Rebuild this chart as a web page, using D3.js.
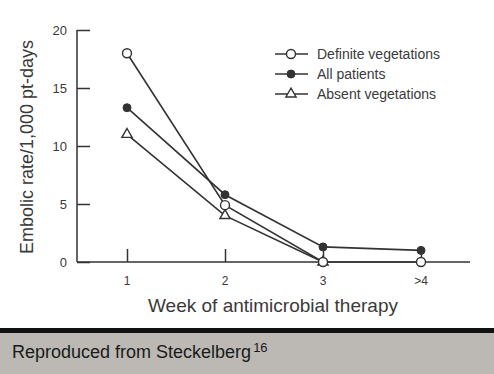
<!DOCTYPE html>
<html>
<head>
<meta charset="utf-8">
<script src="https://cdn.jsdelivr.net/npm/d3@7"></script>
<style>
  body { margin: 0; background: #fff; }
  svg { display: block; }
  text { font-family: "Liberation Sans", Arial, sans-serif; fill: #3a3a3a; }
</style>
</head>
<body>
<div id="chart"></div>
<script>
// Chart data
const weeks = ["1", "2", "3", ">4"];
const definiteVeg = [18, 4.9, 0, 0];
const allPatients = [13.3, 5.8, 1.3, 1.0];
const absentVeg = [11, 4.0, 0];
const yTicks = [0, 5, 10, 15, 20];
const seriesNames = ["Definite vegetations", "All patients", "Absent vegetations"];

const width = 494;
const height = 374;
const ink = "#333";

const svg = d3.select("#chart")
    .append("svg")
    .attr("width", width)
    .attr("height", height);

// Scales
const x = d3.scalePoint()
    .domain(weeks)
    .range([127, 421]);

const y = d3.scaleLinear()
    .domain([0, 20])
    .range([262, 30]);

// Y axis (ticks pointing inward)
const yAxis = svg.append("g")
    .attr("transform", "translate(77,0)")
    .call(d3.axisRight(y).tickValues(yTicks).tickSize(13).tickFormat(""));
yAxis.select(".domain").remove();
yAxis.selectAll("line").attr("stroke", ink).attr("stroke-width", 1.5);

svg.append("line")
    .attr("x1", 77).attr("x2", 77)
    .attr("y1", y(20)).attr("y2", y(0))
    .attr("stroke", ink).attr("stroke-width", 1.5);

svg.selectAll(".ylab")
    .data(yTicks)
    .enter().append("text")
    .attr("class", "ylab")
    .attr("x", 67)
    .attr("y", d => y(d) + 5)
    .attr("text-anchor", "end")
    .attr("font-size", 13)
    .text(d => d);

// X axis (ticks pointing up)
const xAxis = svg.append("g")
    .attr("transform", "translate(0,262)")
    .call(d3.axisTop(x).tickSize(13).tickFormat(""));
xAxis.select(".domain").remove();
xAxis.selectAll("line").attr("stroke", ink).attr("stroke-width", 1.5);

svg.append("line")
    .attr("x1", 77).attr("x2", 470)
    .attr("y1", 262).attr("y2", 262)
    .attr("stroke", ink).attr("stroke-width", 1.5);

svg.selectAll(".xlab")
    .data(weeks)
    .enter().append("text")
    .attr("class", "xlab")
    .attr("x", d => x(d))
    .attr("y", 285)
    .attr("text-anchor", "middle")
    .attr("font-size", 12)
    .text(d => d);

// Axis titles
svg.append("text")
    .attr("transform", "translate(33,147) rotate(-90)")
    .attr("text-anchor", "middle")
    .attr("font-size", 18)
    .text("Embolic rate/1,000 pt-days");

svg.append("text")
    .attr("x", 273)
    .attr("y", 312)
    .attr("text-anchor", "middle")
    .attr("font-size", 19)
    .text("Week of antimicrobial therapy");

// Lines
const line = d3.line()
    .x((d, i) => x(weeks[i]))
    .y(d => y(d));

[definiteVeg, allPatients, absentVeg].forEach(vals => {
    svg.append("path")
        .datum(vals)
        .attr("d", line)
        .attr("fill", "none")
        .attr("stroke", ink)
        .attr("stroke-width", 1.6);
});

// Marker drawing helpers
function circleOpen(g) {
    g.append("circle").attr("r", 4.5).attr("fill", "#fff").attr("stroke", ink).attr("stroke-width", 1.4);
}
function circleFilled(g) {
    g.append("circle").attr("r", 4).attr("fill", ink).attr("stroke", ink);
}
function triangleOpen(g) {
    g.append("path")
        .attr("d", d3.symbol().type(d3.symbolTriangle).size(45))
        .attr("fill", "#fff").attr("stroke", ink).attr("stroke-width", 1.4);
}
const markers = [circleOpen, circleFilled, triangleOpen];

// Draw markers (triangles, then filled, then open circles on top)
[[absentVeg, 2], [allPatients, 1], [definiteVeg, 0]].forEach(([vals, k]) => {
    vals.forEach((v, i) => {
        const g = svg.append("g")
            .attr("transform", "translate(" + x(weeks[i]) + "," + y(v) + ")");
        markers[k](g);
    });
});

// Legend
const legend = svg.append("g");
seriesNames.forEach((name, k) => {
    const ly = 54 + k * 20;
    legend.append("line")
        .attr("x1", 275).attr("x2", 308)
        .attr("y1", ly).attr("y2", ly)
        .attr("stroke", ink).attr("stroke-width", 1.6);
    const g = legend.append("g").attr("transform", "translate(291," + ly + ")");
    markers[k](g);
    legend.append("text")
        .attr("x", 317)
        .attr("y", ly + 5)
        .attr("font-size", 14)
        .text(name);
});

// Source footer
svg.append("rect")
    .attr("x", 0).attr("y", 328)
    .attr("width", width).attr("height", 5)
    .attr("fill", "#111");
svg.append("rect")
    .attr("x", 0).attr("y", 333)
    .attr("width", width).attr("height", height - 333)
    .attr("fill", "#bcb9b4");

const src = svg.append("text")
    .attr("x", 12)
    .attr("y", 358)
    .attr("font-size", 18)
    .style("fill", "#1a1a1a");
src.append("tspan").text("Reproduced from Steckelberg");
src.append("tspan").attr("dx", 2).attr("dy", -6).attr("font-size", 13).text("16");
</script>
</body>
</html>
